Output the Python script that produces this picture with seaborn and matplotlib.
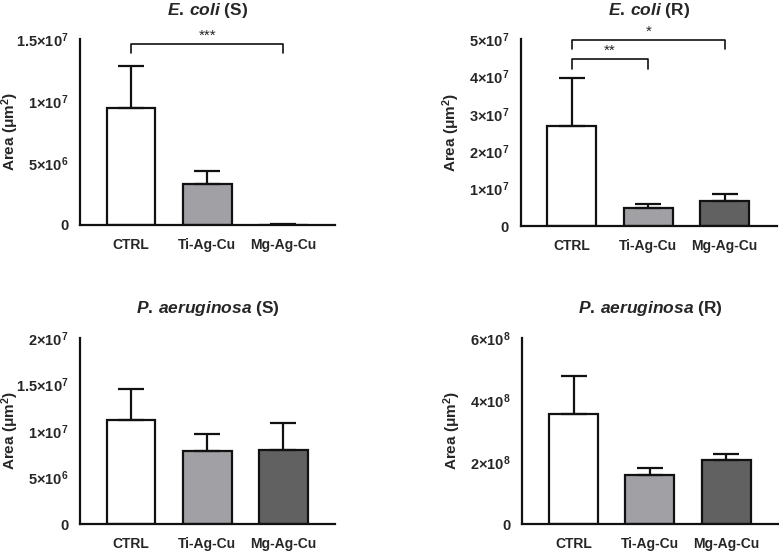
import numpy as np
import pandas as pd
import seaborn as sns
import matplotlib
matplotlib.use("Agg")
import matplotlib.pyplot as plt

# groups and colours
groups = ["CTRL", "Ti-Ag-Cu", "Mg-Ag-Cu"]
colors = ["#ffffff", "#a0a0a6", "#616161"]

# mean and SD (upper error bar)
ecoli_s_mean = [9.4e6, 3.28e6, 3.0e4]
ecoli_s_sd = [3.45e6, 1.1e6, 6.0e4]
ecoli_r_mean = [2.68e7, 4.82e6, 6.78e6]
ecoli_r_sd = [1.28e7, 1.15e6, 1.87e6]
pa_s_mean = [1.117e7, 7.84e6, 7.9e6]
pa_s_sd = [3.29e6, 1.86e6, 2.98e6]
pa_r_mean = [3.54e8, 1.59e8, 2.06e8]
pa_r_sd = [1.23e8, 2.0e7, 1.9e7]

# y ticks
ecoli_s_ticks = [0, 5e6, 1e7, 1.5e7]
ecoli_s_labels = ["0", "5×10$^{6}$", "1×10$^{7}$", "1.5×10$^{7}$"]
ecoli_r_ticks = [0, 1e7, 2e7, 3e7, 4e7, 5e7]
ecoli_r_labels = ["0", "1×10$^{7}$", "2×10$^{7}$", "3×10$^{7}$", "4×10$^{7}$", "5×10$^{7}$"]
pa_s_ticks = [0, 5e6, 1e7, 1.5e7, 2e7]
pa_s_labels = ["0", "5×10$^{6}$", "1×10$^{7}$", "1.5×10$^{7}$", "2×10$^{7}$"]
pa_r_ticks = [0, 2e8, 4e8, 6e8]
pa_r_labels = ["0", "2×10$^{8}$", "4×10$^{8}$", "6×10$^{8}$"]

# significance brackets: (group a, group b, line height, stars)
ecoli_s_sig = [(0, 2, 1.46e7, "***")]
ecoli_r_sig = [(0, 2, 4.98e7, "*"), (0, 1, 4.46e7, "**")]

sns.set_style("white")
plt.rcParams["font.family"] = ["Liberation Sans", "DejaVu Sans"]
plt.rcParams["font.weight"] = "bold"
plt.rcParams["mathtext.fontset"] = "custom"
plt.rcParams["mathtext.rm"] = "Liberation Sans:bold"
plt.rcParams["mathtext.bf"] = "Liberation Sans:bold"
plt.rcParams["mathtext.it"] = "Liberation Sans:bold:italic"

fig = plt.figure(figsize=(7.79, 5.51), dpi=100)

panels = [
    (r"$\it{E.\,coli}$ (S)", ecoli_s_mean, ecoli_s_sd, ecoli_s_ticks, ecoli_s_labels, ecoli_s_sig,
     [0.1027, 0.5917, 0.3274, 0.3376]),
    (r"$\it{E.\,coli}$ (R)", ecoli_r_mean, ecoli_r_sd, ecoli_r_ticks, ecoli_r_labels, ecoli_r_sig,
     [0.6684, 0.5898, 0.3286, 0.3389]),
    (r"$\it{P.\,aeruginosa}$ (S)", pa_s_mean, pa_s_sd, pa_s_ticks, pa_s_labels, [],
     [0.1027, 0.0490, 0.3274, 0.3381]),
    (r"$\it{P.\,aeruginosa}$ (R)", pa_r_mean, pa_r_sd, pa_r_ticks, pa_r_labels, [],
     [0.6705, 0.0490, 0.3286, 0.3381]),
]

for title, mean, sd, ticks, labels, sig, pos in panels:
    ax = fig.add_axes(pos)
    df = pd.DataFrame({"group": groups, "mean": mean})
    sns.barplot(data=df, x="group", y="mean", hue="group", palette=colors,
                order=groups, hue_order=groups, width=0.64, dodge=False,
                legend=False, errorbar=None, edgecolor="#111111",
                linewidth=1.6, ax=ax)
    ax.errorbar(range(len(groups)), mean, yerr=[np.zeros(len(sd)), sd],
                fmt="none", ecolor="#111111", elinewidth=1.6, capsize=9.5,
                capthick=1.6, zorder=5)

    ax.set_xlim(-0.67, 2.68)
    ax.set_ylim(0, ticks[-1])
    ax.set_yticks(ticks)
    ax.set_yticklabels(labels, fontsize=10.5, fontweight="bold")
    ax.set_xticks(range(len(groups)))
    ax.set_xticklabels(groups, fontsize=10, fontweight="bold")
    ax.set_xlabel("")
    ax.set_ylabel("Area (μm$^{2}$)", fontsize=11, fontweight="bold")
    ax.yaxis.set_label_coords(-0.23, 0.5)

    sns.despine(ax=ax)
    for s in ["left", "bottom"]:
        ax.spines[s].set_linewidth(1.6)
        ax.spines[s].set_color("#111111")
    ax.tick_params(axis="both", direction="out", length=5.5, width=1.6,
                   color="#111111", pad=3)
    ax.tick_params(axis="x", pad=4)

    ax.text(0.5, 1.155, title, transform=ax.transAxes, ha="center",
            va="center", fontsize=12.5, fontweight="bold")

    top = ticks[-1]
    for a, b, h, stars in sig:
        drop = top * 0.05
        ax.plot([a, a, b, b], [h - drop, h, h, h - drop], color="#111111",
                lw=1.2, clip_on=False)
        ax.text((a + b) / 2, h + top * 0.008, stars, ha="center", va="bottom",
                fontsize=11, fontweight="normal", clip_on=False)

plt.savefig("out.png", dpi=100)
